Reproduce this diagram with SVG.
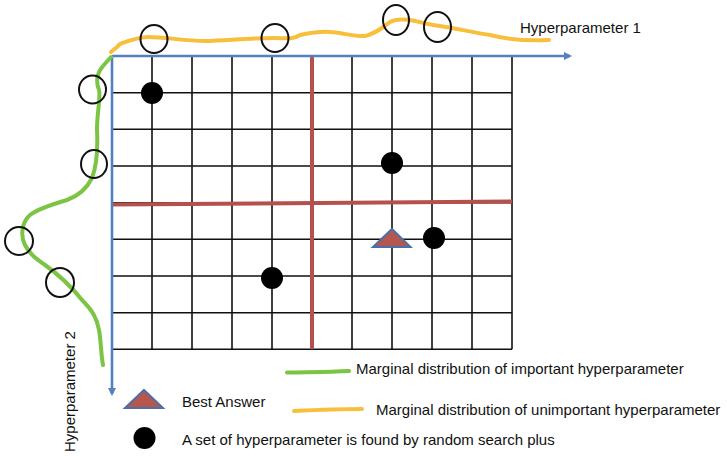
<svg xmlns="http://www.w3.org/2000/svg" width="727" height="456" viewBox="0 0 727 456">
<style>
text{font-family:"Liberation Sans",Arial,sans-serif;font-size:15px;fill:#111}
.grid{stroke:#111;stroke-width:1.6;fill:none}
.red{stroke:#b5514d;stroke-width:4;fill:none}
.axis{stroke:#5580c0;stroke-width:2.6;fill:none}
.green{stroke:#7bc444;stroke-width:4;fill:none;stroke-linecap:round;stroke-linejoin:round}
.orange{stroke:#f8bf3d;stroke-width:4;fill:none;stroke-linecap:round;stroke-linejoin:round}
.ring{stroke:#111;stroke-width:2;fill:none}
.dot{fill:#000}
.tri{fill:#b5564f;stroke:#4d6fa7;stroke-width:2}
</style>
<defs>
<marker id="arr" markerWidth="8" markerHeight="8" refX="6" refY="4" orient="auto" markerUnits="userSpaceOnUse" viewBox="0 0 8 8">
<path d="M0,0 L8,4 L0,8 z" fill="#5580c0"/>
</marker>
</defs>
<g id="grid">
<path class="grid" d="M112,56H512M112,92.7H512M112,129.3H512M112,166H512M112,202.7H512M112,239.3H512M112,276H512M112,312.7H512M112,349.3H512"/>
<path class="grid" d="M112,56V349.3M152,56V349.3M192,56V349.3M232,56V349.3M272,56V349.3M312,56V349.3M352,56V349.3M392,56V349.3M432,56V349.3M472,56V349.3M512,56V349.3"/>
<path class="red" d="M312,56V349.3"/>
<path class="red" d="M112,204.5L512,201.5"/>
</g>
<g id="connectors">
<path class="axis" d="M112,56H570" marker-end="url(#arr)"/>
<path class="axis" d="M112,56V394" marker-end="url(#arr)"/>
</g>
<g id="orange-curve">
<path class="orange" d="M111,52 L117,47 L120,44 C128,41 138,37 148,37 C165,37 185,41 205,41 C230,40 255,38 275,38 C285,38 292,40 300,35 C310,33 320,31 330,32 C345,33 355,37 365,36 C375,34 382,28 390,22 C396,19 405,19 415,21 C425,23 430,25 440,26 C455,28 470,32 490,35 C510,40 530,41 549,40"/>
<ellipse class="ring" cx="154" cy="39" rx="13.5" ry="14"/>
<ellipse class="ring" cx="275" cy="38" rx="13.5" ry="14"/>
<ellipse class="ring" cx="396" cy="20" rx="13" ry="15"/>
<ellipse class="ring" cx="437.5" cy="27" rx="13.5" ry="15"/>
</g>
<g id="green-curve">
<path class="green" d="M111,57 L103,66 C98,72 95,80 99,90 C101,98 97,110 97,130 C98,150 97,165 92,178 C86,190 78,196 67,200 C50,205 36,210 30,215 C22,222 20,235 25,245 C30,255 38,260 45,265 C55,272 70,285 82,300 C92,310 97,318 99,330 C101,340 101,355 103,365"/>
<ellipse class="ring" cx="92.5" cy="89.5" rx="13.5" ry="14"/>
<ellipse class="ring" cx="94" cy="164" rx="13" ry="14"/>
<ellipse class="ring" cx="19" cy="241" rx="14" ry="14"/>
<ellipse class="ring" cx="60" cy="282.5" rx="14" ry="14.5"/>
</g>
<g id="points">
<circle class="dot" cx="152" cy="93" r="11"/>
<circle class="dot" cx="392" cy="163" r="11"/>
<circle class="dot" cx="434" cy="238" r="11"/>
<circle class="dot" cx="272" cy="278" r="11"/>
<path class="tri" d="M392,229 L410.5,247 L373,247 z"/>
</g>
<g id="axis-labels">
<text x="520" y="33">Hyperparameter 1</text>
<text transform="translate(75,452) rotate(-90)">Hyperparameter 2</text>
</g>
<g id="legend">
<path class="green" d="M287,372.5 C310,372 330,372 349,371"/>
<text x="356" y="374">Marginal distribution of important hyperparameter</text>
<path class="orange" d="M294,411 C315,410 340,409 362,409"/>
<text x="376" y="415">Marginal distribution of unimportant hyperparameter</text>
<path class="tri" d="M144,390 L163,408 L125,408 z"/>
<text x="182" y="407">Best Answer</text>
<circle class="dot" cx="144.5" cy="438" r="11"/>
<text x="182" y="445">A set of hyperparameter is found by random search plus</text>
</g>
</svg>
